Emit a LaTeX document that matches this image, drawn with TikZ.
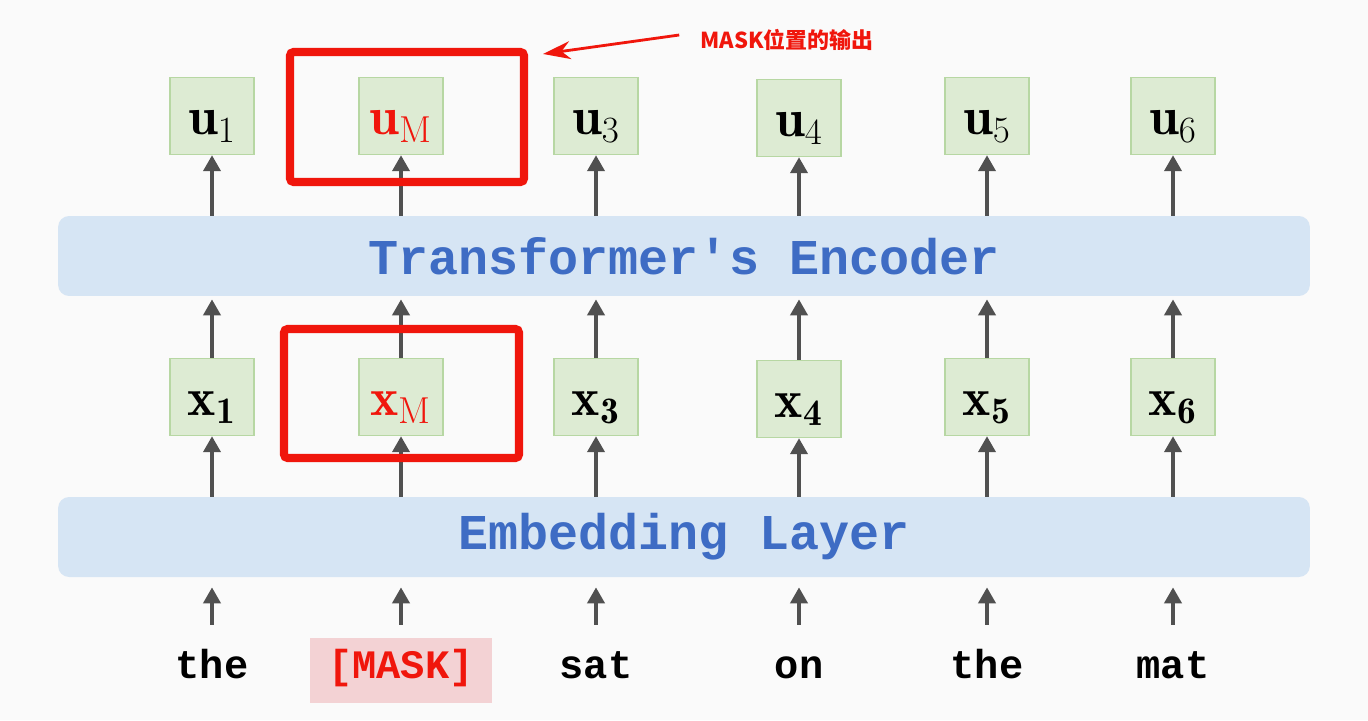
\documentclass[tikz,border=0pt]{standalone}
\usepackage{graphicx}
\usepackage{fontspec}
\setmonofont{Liberation Mono}
\newfontfamily\cjk{Noto Sans CJK SC}
\usetikzlibrary{arrows.meta}
\definecolor{boxgreen}{RGB}{221,235,211}
\definecolor{boxedge}{RGB}{183,215,163}
\definecolor{barblue}{RGB}{214,229,244}
\definecolor{textblue}{RGB}{62,108,196}
\definecolor{arrowgray}{RGB}{80,80,80}
\definecolor{maskred}{RGB}{240,22,12}
\definecolor{maskpink}{RGB}{243,210,212}
\definecolor{bgcol}{RGB}{250,250,250}
\newcommand{\vecsym}[2]{\scalebox{1.22}{$\mathbf{#1}_{#2}$}}
\begin{document}
\begin{tikzpicture}[x=0.02cm,y=-0.02cm,
  vec/.style={draw=boxedge,fill=boxgreen,line width=0.8pt,minimum width=1.68cm,minimum height=1.54cm,inner sep=0pt,text height=0.75cm,text depth=0pt,font=\fontsize{25}{30}\selectfont},
  layer/.style={fill=barblue,rounded corners=0.22cm,minimum width=25.04cm,minimum height=1.6cm,text=textblue,font=\ttfamily\bfseries\fontsize{28.5}{30}\selectfont},
  word/.style={minimum width=3.64cm,minimum height=1.3cm,inner sep=0pt,text height=0.5cm,text depth=0.18cm,font=\ttfamily\bfseries\fontsize{23}{26}\selectfont},
  up/.style={draw=arrowgray,line width=2.2pt,-{Triangle[length=0.32cm,width=0.34cm]}},
  hl/.style={draw=maskred,line width=4.6pt,rounded corners=2pt,minimum width=4.68cm,minimum height=2.6cm,inner sep=0pt},
  note/.style={text=maskred,font=\cjk\bfseries\fontsize{12.5}{14}\selectfont}]
\fill[bgcol] (0,0) rectangle (1368,720);

% the two layers
\node[layer] (enc) at (684,256) {Transformer's Encoder};
\node[layer] (emb) at (684,537) {Embedding Layer};

% input words
\node[word] (w1) at (212,670) {the};
\node[word,fill=maskpink,text=maskred] (w2) at (401,670) {[MASK]};
\node[word] (w3) at (596,670) {sat};
\node[word] (w4) at (799,670) {on};
\node[word] (w5) at (987,670) {the};
\node[word] (w6) at (1173,670) {mat};

% embeddings and outputs
\node[vec] (x1) at (212,397) {\vecsym{x}{\mathbf{1}}};
\node[vec,text=maskred] (x2) at (401,397) {\vecsym{x}{\mathrm{M}}};
\node[vec] (x3) at (596,397) {\vecsym{x}{\mathbf{3}}};
\node[vec] (x4) at (799,399) {\vecsym{x}{\mathbf{4}}};
\node[vec] (x5) at (987,397) {\vecsym{x}{\mathbf{5}}};
\node[vec] (x6) at (1173,397) {\vecsym{x}{\mathbf{6}}};
\node[vec] (u1) at (212,116) {\vecsym{u}{1}};
\node[vec,text=maskred] (u2) at (401,116) {\vecsym{u}{\mathrm{M}}};
\node[vec] (u3) at (596,116) {\vecsym{u}{3}};
\node[vec] (u4) at (799,118) {\vecsym{u}{4}};
\node[vec] (u5) at (987,116) {\vecsym{u}{5}};
\node[vec] (u6) at (1173,116) {\vecsym{u}{6}};

\foreach \i in {1,...,6}{
  \draw[up,shorten <=0.25cm,shorten >=0.2cm] (w\i.north) -- (emb.south -| w\i.north);
  \draw[up] (emb.north -| x\i.south) -- (x\i.south);
  \draw[up,shorten >=0.06cm] (x\i.north) -- (enc.south -| x\i.north);
  \draw[up] (enc.north -| u\i.south) -- (u\i.south);
}

% highlight of the masked position
\node[hl] (hlu) at (407,117) {};
\node[hl,minimum width=4.7cm,minimum height=2.58cm] (hlx) at (401.5,393.5) {};
\node[note] (note) at (787,40) {MASK位置的输出};
\draw[maskred,line width=1.6pt,-{Stealth[length=0.55cm,width=0.36cm]}] ([xshift=-0.3cm,yshift=0.1cm]note.west) -- ([xshift=0.3cm,yshift=-0.12cm]hlu.north east);
\end{tikzpicture}
\end{document}
